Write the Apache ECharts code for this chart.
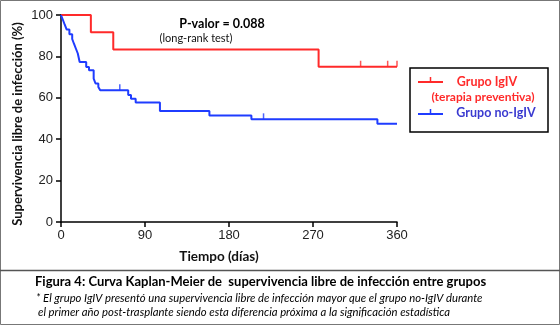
<!DOCTYPE html>
<html>
<head>
<meta charset="utf-8">
<script src="https://cdn.jsdelivr.net/npm/echarts@6/dist/echarts.min.js"></script>
<style>
  html, body { margin: 0; padding: 0; background: #fff; }
  #main { width: 560px; height: 325px; }
</style>
</head>
<body>
<div id="main"></div>
<script>
// curvas Kaplan-Meier: [día, supervivencia %]
var igivCurve = [[0, 100], [32, 91.7], [56, 83.3], [276, 75], [360, 75]];
var igivCensor = [[321, 75], [350, 75], [360, 75]];
var noIgivCurve = [
    [0, 100], [2, 97.7], [4, 95.3], [6, 93], [9, 90.7], [12, 88.4], [14, 86],
    [16, 83.7], [18, 81.4], [20, 77.3], [27, 74.9], [30, 73.3], [35, 69.3],
    [37, 66.9], [40, 65.2], [42, 63.6], [72, 61.4], [75, 59.5], [80, 57.7],
    [106, 53.6], [159, 51.4], [204, 49.6], [339, 47.5], [360, 47.5]
];
var noIgivCensor = [[63, 63.6], [217, 49.6]];
var xTicks = [0, 90, 180, 270, 360];

var RED = '#ff2a2a';
var BLUE = '#1f3cff';
var BLUE_TXT = '#3a3ad0';
var FONT = 'Lato';

var myChart = echarts.init(document.getElementById('main'));

var option = {
    animation: false,
    backgroundColor: '#fff',
    grid: { left: 61, right: 163, top: 15, bottom: 103 },
    xAxis: {
        type: 'value',
        min: 0,
        max: 360,
        interval: 90,
        axisLine: { lineStyle: { color: '#000', width: 1.5 } },
        axisTick: { length: 5, lineStyle: { color: '#000', width: 1.5 } },
        axisLabel: {
            color: '#222', fontSize: 13, fontFamily: 'Liberation Sans', margin: 7,
            formatter: function (v) { return xTicks.indexOf(v) >= 0 ? v : ''; }
        },
        splitLine: { show: false }
    },
    yAxis: {
        type: 'value',
        min: 0,
        max: 100,
        interval: 20,
        axisLine: { show: true, lineStyle: { color: '#000', width: 1.5 } },
        axisTick: { show: true, length: 5, lineStyle: { color: '#000', width: 1.5 } },
        axisLabel: { color: '#222', fontSize: 13, fontFamily: 'Liberation Sans', margin: 8 },
        splitLine: { show: false }
    },
    series: [
        {
            name: 'Grupo IgIV',
            type: 'line',
            step: 'end',
            data: igivCurve,
            symbol: 'none',
            lineStyle: { color: RED, width: 2 },
            z: 3
        },
        {
            name: 'Grupo no-IgIV',
            type: 'line',
            step: 'end',
            data: noIgivCurve,
            symbol: 'none',
            lineStyle: { color: BLUE, width: 2 },
            z: 3
        },
        {
            name: 'censura IgIV',
            type: 'scatter',
            data: igivCensor,
            symbol: 'rect',
            symbolSize: [1.5, 6],
            symbolOffset: [0, -3],
            itemStyle: { color: RED },
            z: 4
        },
        {
            name: 'censura no-IgIV',
            type: 'scatter',
            data: noIgivCensor,
            symbol: 'rect',
            symbolSize: [1.5, 6],
            symbolOffset: [0, -3],
            itemStyle: { color: BLUE },
            z: 4
        }
    ],
    graphic: [
        // marco exterior y separador del pie de figura
        { type: 'rect', shape: { x: 0.5, y: 0.5, width: 559, height: 324 },
          style: { fill: 'none', stroke: '#777', lineWidth: 1 }, silent: true },
        { type: 'line', shape: { x1: 0, y1: 270.5, x2: 560, y2: 270.5 },
          style: { stroke: '#555', lineWidth: 1.5 }, silent: true },
        // títulos de ejes
        { type: 'text', x: 18, y: 124, rotation: Math.PI / 2,
          style: { text: 'Supervivencia libre de infección (%)', fill: '#111',
                   font: 'bold 13px ' + FONT, align: 'center', verticalAlign: 'middle' } },
        { type: 'text', x: 219, y: 257,
          style: { text: 'Tiempo (días)', fill: '#111',
                   font: 'bold 13.5px ' + FONT, align: 'center', verticalAlign: 'middle' } },
        // p-valor
        { type: 'text', x: 222, y: 24,
          style: { text: 'P-valor = 0.088', fill: '#000',
                   font: 'bold 12.5px ' + FONT, align: 'center', verticalAlign: 'middle' } },
        { type: 'text', x: 196, y: 38,
          style: { text: '(long-rank test)', fill: '#111',
                   font: '11px ' + FONT, align: 'center', verticalAlign: 'middle' } },
        // leyenda
        { type: 'rect', shape: { x: 410, y: 68, width: 138, height: 64 },
          style: { fill: '#fff', stroke: '#000', lineWidth: 1.5 }, silent: true },
        { type: 'line', shape: { x1: 418, y1: 82, x2: 443, y2: 82 },
          style: { stroke: RED, lineWidth: 2 } },
        { type: 'line', shape: { x1: 430.5, y1: 82, x2: 430.5, y2: 77 },
          style: { stroke: RED, lineWidth: 1.5 } },
        { type: 'text', x: 487, y: 82,
          style: { text: 'Grupo IgIV', fill: RED, font: 'bold 12.5px ' + FONT,
                   align: 'center', verticalAlign: 'middle' } },
        { type: 'text', x: 483, y: 97,
          style: { text: '(terapia preventiva)', fill: RED, font: 'bold 12px ' + FONT,
                   align: 'center', verticalAlign: 'middle' } },
        { type: 'line', shape: { x1: 418, y1: 114, x2: 443, y2: 114 },
          style: { stroke: BLUE, lineWidth: 2 } },
        { type: 'line', shape: { x1: 430.5, y1: 114, x2: 430.5, y2: 109 },
          style: { stroke: BLUE, lineWidth: 1.5 } },
        { type: 'text', x: 496, y: 113,
          style: { text: 'Grupo no-IgIV', fill: BLUE_TXT, font: 'bold 12.5px ' + FONT,
                   align: 'center', verticalAlign: 'middle' } },
        // pie de figura
        { type: 'text', x: 35, y: 282,
          style: { text: 'Figura 4: Curva Kaplan-Meier de  supervivencia libre de infección entre grupos',
                   fill: '#000', font: 'bold 13px ' + FONT, verticalAlign: 'middle' } },
        { type: 'text', x: 36, y: 298,
          style: { text: '* El grupo IgIV presentó una supervivencia libre de infección mayor que el grupo no-IgIV durante',
                   fill: '#000', font: 'italic 11.3px ' + FONT, verticalAlign: 'middle' } },
        { type: 'text', x: 38, y: 312,
          style: { text: 'el primer año post-trasplante siendo esta diferencia próxima a la significación estadística',
                   fill: '#000', font: 'italic 11.3px ' + FONT, verticalAlign: 'middle' } }
    ]
};

myChart.setOption(option);
</script>
</body>
</html>
